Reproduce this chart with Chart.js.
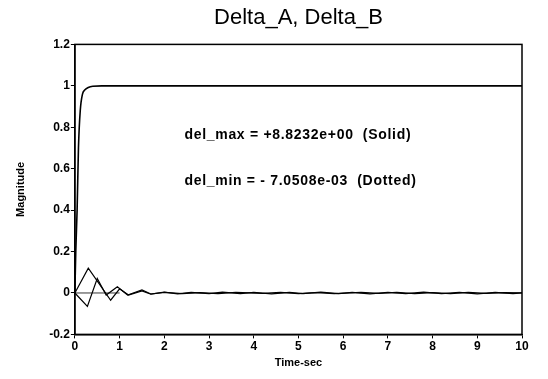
<!DOCTYPE html>
<html>
<head>
<meta charset="utf-8">
<script src="https://cdn.jsdelivr.net/npm/chart.js@4/dist/chart.umd.min.js"></script>
<style>
  html, body { margin: 0; padding: 0; background: #fff; }
  #wrap { width: 548px; height: 379px; }
</style>
</head>
<body>
<div id="wrap"><canvas id="chart"></canvas></div>
<script>
// ===== Dữ liệu =====
const titleText = "Delta_A, Delta_B";
const xTitle = "Time-sec";
const yTitle = "Magnitude";

const xTicks = [0, 1, 2, 3, 4, 5, 6, 7, 8, 9, 10];
const yTicks = [-0.2, 0, 0.2, 0.4, 0.6, 0.8, 1, 1.2];
const yTickLabels = ["-0.2", "0", "0.2", "0.4", "0.6", "0.8", "1", "1.2"];

// đường chính (lên 1)
const stepTime  = [0, 0.02, 0.05, 0.08, 0.12, 0.17, 0.22, 0.3, 0.4, 0.6, 1, 10];
const stepValue = [0, 0.2, 0.4, 0.7, 0.88, 0.96, 0.98, 0.992, 0.998, 1, 1, 1];

// dao động phía trên
const upTime  = [0, 0.3, 0.8, 1.0, 1.2, 1.5, 1.7, 2.0, 2.3, 2.6, 3.0, 3.3, 3.7, 4.0, 4.4, 4.8, 5.1, 5.5, 5.9, 6.2, 6.6, 7.0, 7.4, 7.8, 8.2, 8.6, 9.0, 9.4, 9.8, 10];
const upValue = [0, 0.12, -0.035, 0.02, -0.01, 0.01, -0.006, 0.004, -0.004, 0.003, -0.003, 0.004, -0.003, 0.003, -0.004, 0.003, -0.003, 0.004, -0.003, 0.003, -0.004, 0.003, -0.003, 0.004, -0.003, 0.003, -0.004, 0.003, -0.003, 0];

// dao động phía dưới
const downTime  = [0, 0.28, 0.5, 0.7, 0.95, 1.18, 1.5, 1.7, 2.0, 2.4, 2.8, 3.2, 3.6, 4.2, 4.6, 5.0, 5.4, 5.8, 6.4, 6.8, 7.2, 7.6, 8.0, 8.4, 8.8, 9.2, 9.6, 10];
const downValue = [0, -0.065, 0.07, -0.01, 0.03, -0.01, 0.015, -0.005, 0.003, -0.003, 0.002, -0.003, 0.003, -0.002, 0.003, -0.003, 0.002, -0.003, 0.003, -0.002, 0.003, -0.003, 0.002, -0.003, 0.003, -0.002, 0.002, 0];

// đường tham chiếu 0
const zeroTime  = [0, 1];
const zeroValue = [0, 0];

const notes = [
  { text: "del_max = +8.8232e+00  (Solid)",  x: 2.45, y: 0.76 },
  { text: "del_min = - 7.0508e-03  (Dotted)", x: 2.45, y: 0.54 }
];

function toPoints(xs, ys) {
  return xs.map((x, i) => ({ x: x, y: ys[i] }));
}

const FONT = "'Liberation Sans', Arial, sans-serif";

// vẽ khung và chú thích
const framePlugin = {
  id: "frame",
  afterDatasetsDraw(chart) {
    const { ctx, chartArea, scales } = chart;
    ctx.save();
    ctx.strokeStyle = "#000";
    ctx.lineWidth = 1.5;
    ctx.strokeRect(chartArea.left, chartArea.top, chartArea.right - chartArea.left, chartArea.bottom - chartArea.top);
    ctx.fillStyle = "#000";
    ctx.font = "bold 14px " + FONT;
    ctx.letterSpacing = "0.7px";
    ctx.textBaseline = "middle";
    ctx.textAlign = "left";
    notes.forEach(n => {
      ctx.fillText(n.text, scales.x.getPixelForValue(n.x), scales.y.getPixelForValue(n.y));
    });
    ctx.restore();
  }
};

const lineStyle = { borderColor: "#000", pointRadius: 0, fill: false };

new Chart(document.getElementById("chart"), {
  type: "line",
  data: {
    datasets: [
      Object.assign({ data: toPoints(stepTime, stepValue), borderWidth: 1.6, cubicInterpolationMode: "monotone" }, lineStyle),
      Object.assign({ data: toPoints(upTime, upValue), borderWidth: 1.2 }, lineStyle),
      Object.assign({ data: toPoints(downTime, downValue), borderWidth: 1.2 }, lineStyle),
      Object.assign({ data: toPoints(zeroTime, zeroValue), borderWidth: 0.8 }, lineStyle)
    ]
  },
  options: {
    responsive: true,
    maintainAspectRatio: false,
    animation: false,
    layout: { padding: { left: 14, right: 26, top: 4, bottom: 9 } },
    plugins: {
      legend: { display: false },
      tooltip: { enabled: false },
      title: { display: false }
    },
    scales: {
      x: {
        type: "linear",
        min: 0,
        max: 10,
        afterBuildTicks: axis => { axis.ticks = xTicks.map(v => ({ value: v })); },
        ticks: {
          color: "#000",
          font: { family: FONT, size: 12, weight: "bold" },
          padding: 1,
          maxRotation: 0
        },
        grid: { drawOnChartArea: false, tickLength: 4, color: "#000", lineWidth: 1 },
        border: { color: "#000", width: 1.5 },
        title: {
          display: true,
          text: xTitle,
          color: "#000",
          font: { family: FONT, size: 11, weight: "bold" },
          padding: { top: 2, bottom: 0 }
        }
      },
      xTop: {
        type: "linear",
        position: "top",
        min: 0,
        max: 10,
        ticks: { display: false },
        grid: { display: false },
        border: { display: false },
        title: {
          display: true,
          text: titleText,
          color: "#000",
          font: { family: FONT, size: 22, weight: "normal" },
          padding: { top: 1, bottom: 5 }
        }
      },
      y: {
        type: "linear",
        min: -0.2,
        max: 1.2,
        afterBuildTicks: axis => { axis.ticks = yTicks.map(v => ({ value: v })); },
        ticks: {
          color: "#000",
          font: { family: FONT, size: 12, weight: "bold" },
          padding: 1,
          callback: (value, index) => yTickLabels[index]
        },
        grid: { drawOnChartArea: false, tickLength: 4, color: "#000", lineWidth: 1 },
        border: { color: "#000", width: 1.5 },
        title: {
          display: true,
          text: yTitle,
          color: "#000",
          font: { family: FONT, size: 11, weight: "bold" },
          padding: { top: 0, bottom: 21 }
        }
      }
    }
  },
  plugins: [framePlugin]
});
</script>
</body>
</html>
